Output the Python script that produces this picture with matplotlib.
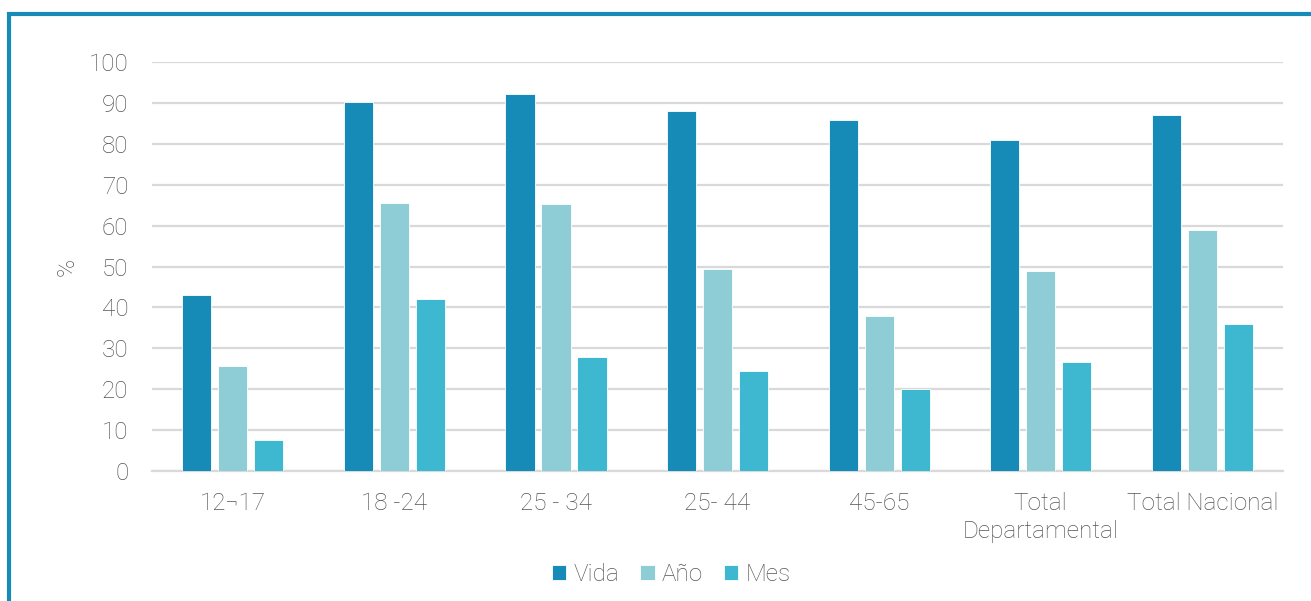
import numpy as np
import matplotlib.pyplot as plt
from matplotlib.patches import Rectangle

categories = ["12\u00ac17", "18 -24", "25 - 34", "25- 44", "45-65", "Total\nDepartamental", "Total Nacional"]
vida = [43.0, 90.2, 92.2, 88.0, 85.8, 80.9, 87.0]
anio = [25.7, 65.5, 65.3, 49.4, 37.9, 48.9, 58.9]
mes = [7.6, 42.0, 27.9, 24.4, 20.0, 26.6, 35.9]
series_names = ["Vida", "A\u00f1o", "Mes"]
colors = ["#178bb8", "#8ecdd6", "#3db8d0"]
yticks = list(range(0, 101, 10))

TEXT = "#555555"
FS = 17.5
plt.rcParams["font.family"] = ["Roboto", "DejaVu Sans"]

fig = plt.figure(figsize=(13.11, 6.01), dpi=100)
ax = fig.add_axes([0.116, 0.2163, 0.8627, 0.6805])

x = np.arange(len(categories))
width = 0.18
step = 0.223
for i, (vals, name, c) in enumerate(zip([vida, anio, mes], series_names, colors)):
    ax.bar(x + (i - 1) * step, vals, width, color=c, label=name,
           edgecolor="white", linewidth=0.6, zorder=3)

ax.set_xlim(-0.5, len(categories) - 0.5)
ax.set_ylim(0, 100)
ax.set_yticks(yticks)
ax.set_xticks(x)
ax.set_xticklabels(categories, fontsize=FS, color=TEXT, fontweight="light", linespacing=1.3)
ax.tick_params(axis="y", length=0, pad=17, labelsize=FS, labelcolor=TEXT)
ax.tick_params(axis="x", length=0, pad=15)
for lab in ax.get_yticklabels():
    lab.set_fontweight("light")
ax.grid(axis="y", color="#d9d9d9", linewidth=1.6, zorder=0)
for s in ["top", "right", "left"]:
    ax.spines[s].set_visible(False)
ax.spines["bottom"].set_color("#d9d9d9")
ax.spines["bottom"].set_linewidth(1.6)
ax.set_ylabel("%", fontsize=FS, color=TEXT, fontweight="light", labelpad=7)

ax.legend(loc="upper center", bbox_to_anchor=(0.459, -0.171), ncol=3, frameon=False,
          prop={"size": FS, "weight": "light"}, labelcolor=TEXT,
          handlelength=0.6, handleheight=0.6, handletextpad=0.3, columnspacing=0.85)

fig.patches.append(Rectangle((9 / 1311, -0.1), 1.2, 1 - 13.5 / 601 + 0.1,
                             transform=fig.transFigure, fill=False,
                             edgecolor="#178bb8", linewidth=3, zorder=10))

fig.savefig("out.png", dpi=100)
